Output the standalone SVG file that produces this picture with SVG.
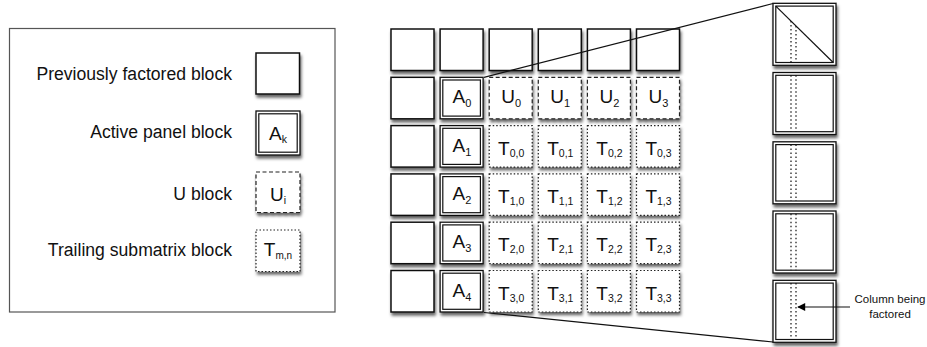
<svg xmlns="http://www.w3.org/2000/svg" width="927" height="347" viewBox="0 0 927 347">
<defs>
<filter id="sh" x="-30%" y="-30%" width="160%" height="170%">
<feDropShadow dx="1.2" dy="3" stdDeviation="1.8" flood-color="#000" flood-opacity="0.6"/>
</filter>
<marker id="arr" viewBox="0 0 10 10" refX="9" refY="5" markerWidth="9" markerHeight="8" markerUnits="userSpaceOnUse" orient="auto">
<path d="M0,0 L10,5 L0,10 z" fill="#000"/>
</marker>
</defs>
<style>
text{font-family:"Liberation Sans",Arial,sans-serif;fill:#111}
.lg{font-size:17.6px;text-anchor:end}
.lb{font-size:19px;text-anchor:middle}
.tl{font-size:19px;text-anchor:middle}
.pf{fill:#fff;stroke:#111;stroke-width:1.5;filter:url(#sh)}
.apo{fill:#fff;stroke:#111;stroke-width:1.3;filter:url(#sh)}
.api{fill:none;stroke:#111;stroke-width:1.2}
.ub{fill:#fff;stroke:#222;stroke-width:1.2;stroke-dasharray:4 2.5;filter:url(#sh)}
.tb{fill:#fff;stroke:#222;stroke-width:1.2;stroke-dasharray:1.5 2;filter:url(#sh)}
.dl{stroke:#111;stroke-width:1.2;stroke-dasharray:1.5 2.5;fill:none}
.cn{stroke:#111;stroke-width:1.2;fill:none}
</style>

<g id="legend">
<rect x="9.5" y="28.5" width="325.5" height="283.5" fill="#fff" stroke="#555" stroke-width="1.2"/>
<text class="lg" x="232" y="80">Previously factored block</text>
<text class="lg" x="232" y="138">Active panel block</text>
<text class="lg" x="232" y="200">U block</text>
<text class="lg" x="232" y="256">Trailing submatrix block</text>
<g id="legend-pf"><rect class="pf" x="256" y="53" width="43.5" height="41"/></g>
<g id="legend-ap"><rect class="apo" x="256" y="111" width="44" height="44"/><rect class="api" x="258.8" y="113.8" width="38.4" height="38.4"/>
<text class="lb" x="278" y="139.5">A<tspan font-size="10.5" dy="3">k</tspan></text></g>
<g id="legend-u"><rect class="ub" x="256" y="172" width="44" height="40.5"/>
<text class="lb" x="278" y="200.5">U<tspan font-size="10.5" dy="3">i</tspan></text></g>
<g id="legend-t"><rect class="tb" x="256" y="230" width="44" height="41.5"/>
<text class="tl" x="278" y="256">T<tspan font-size="10" dy="2.5">m,n</tspan></text></g>
</g>

<g id="row0">
<g id="b00"><rect class="pf" x="391" y="29" width="43" height="41.5"/></g>
<g id="b01"><rect class="pf" x="440.1" y="29" width="43" height="41.5"/></g>
<g id="b02"><rect class="pf" x="489.2" y="29" width="43" height="41.5"/></g>
<g id="b03"><rect class="pf" x="538.3" y="29" width="43" height="41.5"/></g>
<g id="b04"><rect class="pf" x="587.4" y="29" width="43" height="41.5"/></g>
<g id="b05"><rect class="pf" x="636.5" y="29" width="43" height="41.5"/></g>
</g>

<g id="row1">
<g id="b10"><rect class="pf" x="391" y="77.3" width="43" height="41.5"/></g>
<g id="A0"><rect class="apo" x="440.1" y="77.3" width="43" height="41.5"/><rect class="api" x="442.8" y="80" width="37.6" height="36.1"/><text class="lb" x="462" y="103.3">A<tspan font-size="11" dy="4">0</tspan></text></g>
<g id="U0"><rect class="ub" x="489.2" y="77.3" width="43" height="41.5"/><text class="lb" x="511.2" y="103.3">U<tspan font-size="11" dy="4">0</tspan></text></g>
<g id="U1"><rect class="ub" x="538.3" y="77.3" width="43" height="41.5"/><text class="lb" x="560.3" y="103.3">U<tspan font-size="11" dy="4">1</tspan></text></g>
<g id="U2"><rect class="ub" x="587.4" y="77.3" width="43" height="41.5"/><text class="lb" x="609.4" y="103.3">U<tspan font-size="11" dy="4">2</tspan></text></g>
<g id="U3"><rect class="ub" x="636.5" y="77.3" width="43" height="41.5"/><text class="lb" x="658.5" y="103.3">U<tspan font-size="11" dy="4">3</tspan></text></g>
</g>

<g id="row2">
<g id="b20"><rect class="pf" x="391" y="125.6" width="43" height="41.5"/></g>
<g id="A1"><rect class="apo" x="440.1" y="125.6" width="43" height="41.5"/><rect class="api" x="442.8" y="128.3" width="37.6" height="36.1"/><text class="lb" x="462" y="151.6">A<tspan font-size="11" dy="4">1</tspan></text></g>
<g id="T00"><rect class="tb" x="489.2" y="125.6" width="43" height="41.5"/><text class="tl" x="511.2" y="154.6">T<tspan font-size="10.5" dy="2">0,0</tspan></text></g>
<g id="T01"><rect class="tb" x="538.3" y="125.6" width="43" height="41.5"/><text class="tl" x="560.3" y="154.6">T<tspan font-size="10.5" dy="2">0,1</tspan></text></g>
<g id="T02"><rect class="tb" x="587.4" y="125.6" width="43" height="41.5"/><text class="tl" x="609.4" y="154.6">T<tspan font-size="10.5" dy="2">0,2</tspan></text></g>
<g id="T03"><rect class="tb" x="636.5" y="125.6" width="43" height="41.5"/><text class="tl" x="658.5" y="154.6">T<tspan font-size="10.5" dy="2">0,3</tspan></text></g>
</g>

<g id="row3">
<g id="b30"><rect class="pf" x="391" y="173.9" width="43" height="41.5"/></g>
<g id="A2"><rect class="apo" x="440.1" y="173.9" width="43" height="41.5"/><rect class="api" x="442.8" y="176.6" width="37.6" height="36.1"/><text class="lb" x="462" y="199.9">A<tspan font-size="11" dy="4">2</tspan></text></g>
<g id="T10"><rect class="tb" x="489.2" y="173.9" width="43" height="41.5"/><text class="tl" x="511.2" y="202.9">T<tspan font-size="10.5" dy="2">1,0</tspan></text></g>
<g id="T11"><rect class="tb" x="538.3" y="173.9" width="43" height="41.5"/><text class="tl" x="560.3" y="202.9">T<tspan font-size="10.5" dy="2">1,1</tspan></text></g>
<g id="T12"><rect class="tb" x="587.4" y="173.9" width="43" height="41.5"/><text class="tl" x="609.4" y="202.9">T<tspan font-size="10.5" dy="2">1,2</tspan></text></g>
<g id="T13"><rect class="tb" x="636.5" y="173.9" width="43" height="41.5"/><text class="tl" x="658.5" y="202.9">T<tspan font-size="10.5" dy="2">1,3</tspan></text></g>
</g>

<g id="row4">
<g id="b40"><rect class="pf" x="391" y="222.2" width="43" height="41.5"/></g>
<g id="A3"><rect class="apo" x="440.1" y="222.2" width="43" height="41.5"/><rect class="api" x="442.8" y="224.9" width="37.6" height="36.1"/><text class="lb" x="462" y="248.2">A<tspan font-size="11" dy="4">3</tspan></text></g>
<g id="T20"><rect class="tb" x="489.2" y="222.2" width="43" height="41.5"/><text class="tl" x="511.2" y="251.2">T<tspan font-size="10.5" dy="2">2,0</tspan></text></g>
<g id="T21"><rect class="tb" x="538.3" y="222.2" width="43" height="41.5"/><text class="tl" x="560.3" y="251.2">T<tspan font-size="10.5" dy="2">2,1</tspan></text></g>
<g id="T22"><rect class="tb" x="587.4" y="222.2" width="43" height="41.5"/><text class="tl" x="609.4" y="251.2">T<tspan font-size="10.5" dy="2">2,2</tspan></text></g>
<g id="T23"><rect class="tb" x="636.5" y="222.2" width="43" height="41.5"/><text class="tl" x="658.5" y="251.2">T<tspan font-size="10.5" dy="2">2,3</tspan></text></g>
</g>

<g id="row5">
<g id="b50"><rect class="pf" x="391" y="270.5" width="43" height="41.5"/></g>
<g id="A4"><rect class="apo" x="440.1" y="270.5" width="43" height="41.5"/><rect class="api" x="442.8" y="273.2" width="37.6" height="36.1"/><text class="lb" x="462" y="296.5">A<tspan font-size="11" dy="4">4</tspan></text></g>
<g id="T30"><rect class="tb" x="489.2" y="270.5" width="43" height="41.5"/><text class="tl" x="511.2" y="299.5">T<tspan font-size="10.5" dy="2">3,0</tspan></text></g>
<g id="T31"><rect class="tb" x="538.3" y="270.5" width="43" height="41.5"/><text class="tl" x="560.3" y="299.5">T<tspan font-size="10.5" dy="2">3,1</tspan></text></g>
<g id="T32"><rect class="tb" x="587.4" y="270.5" width="43" height="41.5"/><text class="tl" x="609.4" y="299.5">T<tspan font-size="10.5" dy="2">3,2</tspan></text></g>
<g id="T33"><rect class="tb" x="636.5" y="270.5" width="43" height="41.5"/><text class="tl" x="658.5" y="299.5">T<tspan font-size="10.5" dy="2">3,3</tspan></text></g>
</g>

<g id="panel">
<g id="p0"><rect class="apo" x="773" y="3.3" width="63" height="62"/><rect class="api" x="775.8" y="6.1" width="57.4" height="56.4"/>
<line x1="775.8" y1="6.1" x2="833.2" y2="62.5" stroke="#111" stroke-width="1.2"/>
<line class="dl" x1="791" y1="21" x2="791" y2="62.5"/><line class="dl" x1="796" y1="26" x2="796" y2="62.5"/></g>
<g id="p1"><rect class="apo" x="773" y="72.5" width="63" height="62"/><rect class="api" x="775.8" y="75.3" width="57.4" height="56.4"/>
<line class="dl" x1="791" y1="75.3" x2="791" y2="131.7"/><line class="dl" x1="796" y1="75.3" x2="796" y2="131.7"/></g>
<g id="p2"><rect class="apo" x="773" y="141.8" width="63" height="62"/><rect class="api" x="775.8" y="144.6" width="57.4" height="56.4"/>
<line class="dl" x1="791" y1="144.6" x2="791" y2="201"/><line class="dl" x1="796" y1="144.6" x2="796" y2="201"/></g>
<g id="p3"><rect class="apo" x="773" y="211" width="63" height="62"/><rect class="api" x="775.8" y="213.8" width="57.4" height="56.4"/>
<line class="dl" x1="791" y1="213.8" x2="791" y2="270.2"/><line class="dl" x1="796" y1="213.8" x2="796" y2="270.2"/></g>
<g id="p4"><rect class="apo" x="773" y="280.3" width="63" height="62"/><rect class="api" x="775.8" y="283.1" width="57.4" height="56.4"/>
<line class="dl" x1="791" y1="283.1" x2="791" y2="339.5"/><line class="dl" x1="796" y1="283.1" x2="796" y2="339.5"/></g>
</g>

<g id="label-column">
<text x="890" y="302.5" font-size="11.5" text-anchor="middle">Column being</text>
<text x="890" y="317.5" font-size="11.5" text-anchor="middle">factored</text>
</g>

<g id="connectors">
<line class="cn" x1="484" y1="77.3" x2="773" y2="3.5"/>
<line class="cn" x1="484" y1="312.5" x2="773" y2="342"/>
<line class="cn" x1="850" y1="307" x2="798" y2="307" marker-end="url(#arr)"/>
</g>
</svg>
